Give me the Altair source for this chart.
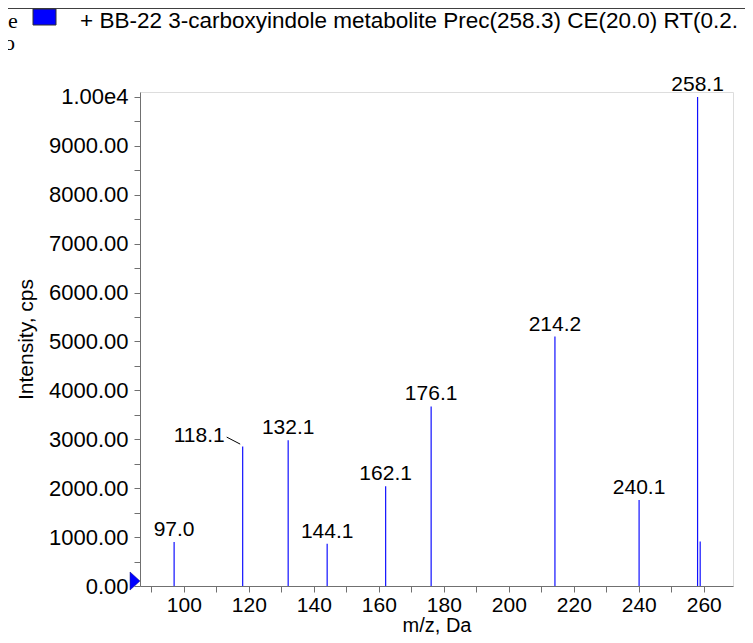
import altair as alt
import pandas as pd

# ---- data ----
mz = [97.0, 118.1, 132.1, 144.1, 162.1, 176.1, 214.2, 240.1, 258.1, 258.9]
intensity = [900, 2850, 2980, 865, 2040, 3670, 5100, 1760, 10000, 910]
labels = ["97.0", "118.1", "132.1", "144.1", "162.1", "176.1", "214.2", "240.1", "258.1", ""]
x_ticks = list(range(90, 261, 10))
y_ticks = list(range(0, 10001, 500))
title_text = "+ BB-22 3-carboxyindole metabolite Prec(258.3) CE(20.0) RT(0.2."

df = pd.DataFrame({"mz": mz, "intensity": intensity, "label": labels})

FONT = "Liberation Sans"
W, H = 593, 494
XD = [86.5, 269]
YD = [0, 10100]

xs = alt.Scale(domain=XD, nice=False, zero=False)
ys = alt.Scale(domain=YD, nice=False)

x_axis = alt.Axis(
    values=x_ticks,
    tickCount=100,
    labelExpr="datum.value % 20 == 0 ? format(datum.value, 'd') : ''",
    title="m/z, Da",
    grid=False,
    tickSize=6,
    labelPadding=2,
    titlePadding=0,
    labelFont=FONT, titleFont=FONT,
    labelFontSize=21, titleFontSize=20, titleFontWeight="normal",
    labelColor="black", titleColor="black",
    domainColor="#707070", tickColor="#707070",
    labelFlush=False, labelOverlap=False,
)
y_axis = alt.Axis(
    values=y_ticks,
    tickCount=100,
    labelExpr="datum.value % 1000 == 0 ? (datum.value == 10000 ? '1.00e4' : format(datum.value, '.2f')) : ''",
    title="Intensity, cps",
    grid=False,
    tickSize=6,
    labelPadding=6,
    titlePadding=12,
    labelFont=FONT, titleFont=FONT,
    labelFontSize=22, titleFontSize=21, titleFontWeight="normal",
    labelColor="black", titleColor="black",
    domainColor="#707070", tickColor="#707070",
    labelFlush=False, labelOverlap=False,
)

base = alt.Chart(df)

peaks = base.mark_rule(color="#1010ff", strokeWidth=1.2).encode(
    x=alt.X("mz:Q", scale=xs, axis=x_axis),
    y=alt.Y("intensity:Q", scale=ys, axis=y_axis),
    y2=alt.datum(0),
)

main_labels = base.transform_filter(
    "datum.label != '' && datum.label != '118.1'"
).mark_text(font=FONT, fontSize=21, align="center", baseline="alphabetic", dy=-6, color="black").encode(
    x=alt.X("mz:Q", scale=xs), y=alt.Y("intensity:Q", scale=ys), text="label:N"
)

shifted_label = base.transform_filter("datum.label == '118.1'").mark_text(
    font=FONT, fontSize=21, align="right", baseline="alphabetic", dx=-18, dy=-5, color="black"
).encode(x=alt.X("mz:Q", scale=xs), y=alt.Y("intensity:Q", scale=ys), text="label:N")

leader = base.transform_filter("datum.label == '118.1'").mark_rule(
    color="black", strokeWidth=1, xOffset=-2.5, x2Offset=-16, yOffset=-2.5, y2Offset=-9.5
).encode(
    x=alt.X("mz:Q", scale=xs), x2="mz:Q",
    y=alt.Y("intensity:Q", scale=ys), y2="intensity:Q",
)

marker = alt.Chart(pd.DataFrame({"v": [0]})).mark_point(
    shape="M -0.55 -1 L 0.55 0 L -0.55 1 Z", filled=True, color="#0000ff", size=324, opacity=1,
    stroke="#000080", strokeWidth=0.5
).encode(x=alt.value(-5), y=alt.value(H - 5))

top_line = alt.Chart(pd.DataFrame({"v": [0]})).mark_rule(color="#404040", strokeWidth=1.2).encode(
    x=alt.value(-132), x2=alt.value(606), y=alt.value(-83.5)
)

legend_box = alt.Chart(pd.DataFrame({"v": [0]})).mark_rect(
    color="#0000ff", stroke="#303030", strokeWidth=1
).encode(x=alt.value(-107), x2=alt.value(-84), y=alt.value(-83), y2=alt.value(-67))

title_mark = alt.Chart(pd.DataFrame({"t": [title_text]})).mark_text(
    font=FONT, fontSize=22.5, align="left", baseline="alphabetic", color="black"
).encode(x=alt.value(-60), y=alt.value(-64), text="t:N")

edge_e = alt.Chart(pd.DataFrame({"t": ["e"]})).mark_text(
    font="Liberation Serif", fontSize=22, align="left", baseline="alphabetic", color="black"
).encode(x=alt.value(-132), y=alt.value(-64), text="t:N")

edge_o = alt.Chart(pd.DataFrame({"t": ["o"]})).mark_text(
    font="Liberation Serif", fontSize=22, align="left", baseline="alphabetic", color="black"
).encode(x=alt.value(-136), y=alt.value(-42), text="t:N")

chart = alt.layer(
    peaks, main_labels, shifted_label, leader, marker, top_line, legend_box, title_mark, edge_e, edge_o
).properties(
    width=W, height=H,
    autosize=alt.AutoSizeParams(type="none"),
    padding={"left": 132, "top": 84, "right": 12, "bottom": 49},
).configure_view(stroke=None).configure(background="white")

chart.save("out.html", embed_options={"renderer": "svg", "actions": False})
